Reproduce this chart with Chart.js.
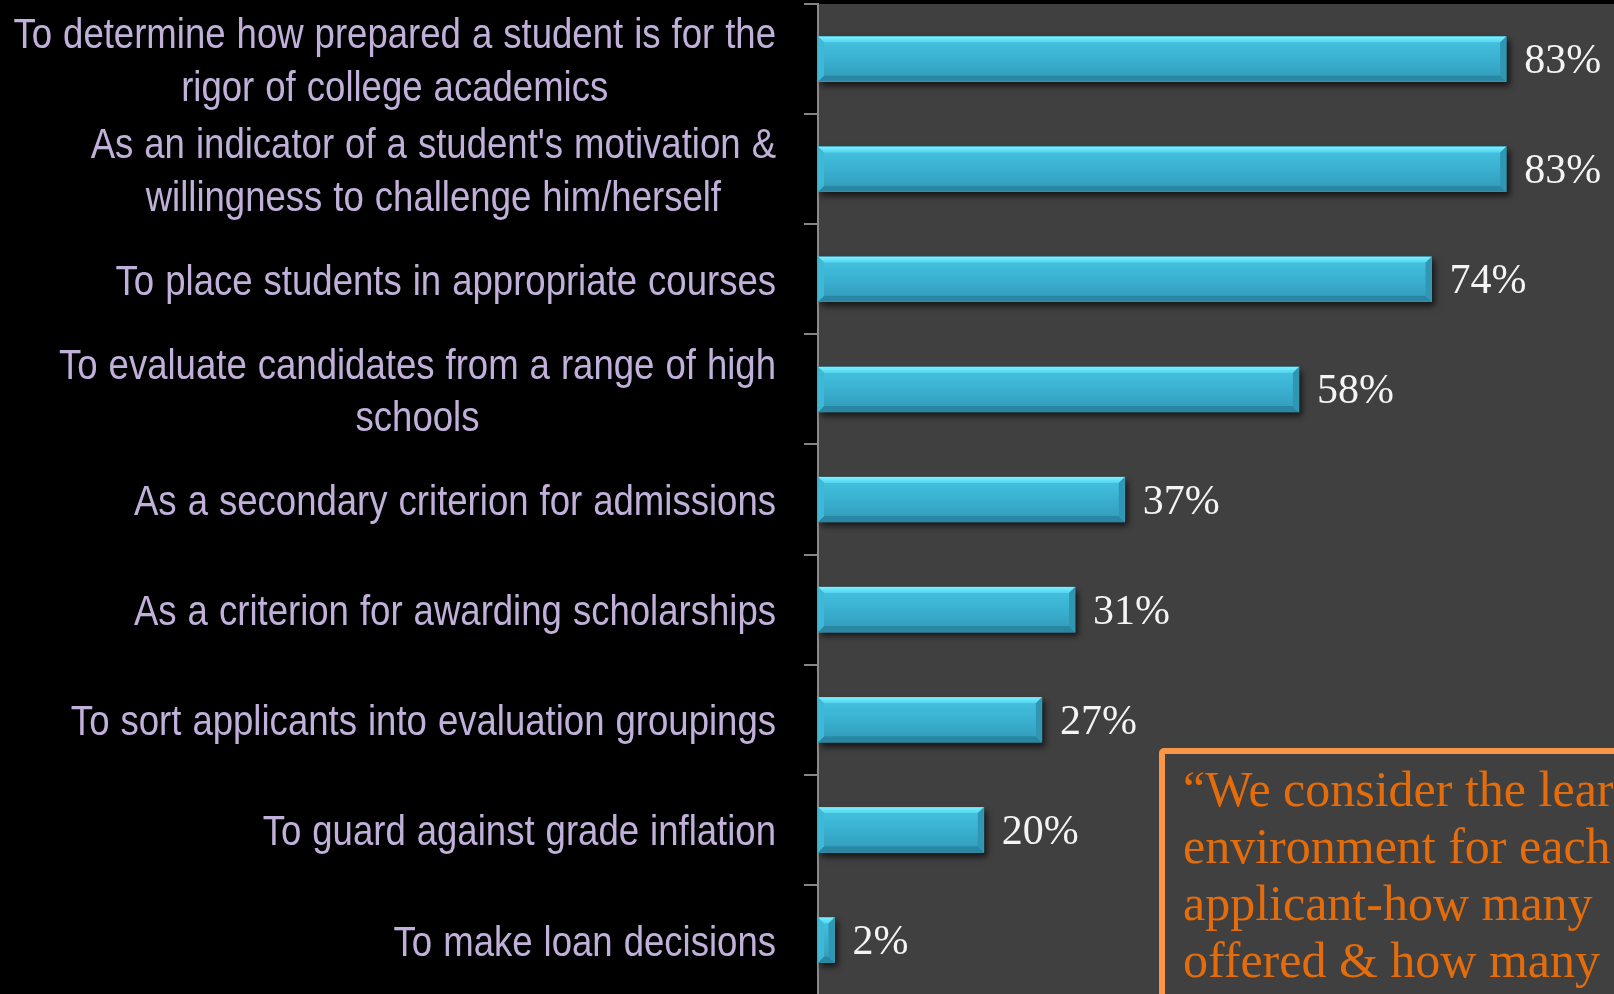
<!DOCTYPE html>
<html>
<head>
<meta charset="utf-8">
<script src="https://cdn.jsdelivr.net/npm/chart.js@4.4.1/dist/chart.umd.min.js"></script>
<style>
  html, body { margin: 0; padding: 0; background: #000; overflow: hidden; width: 1614px; height: 994px; }
  #wrap { position: absolute; left: 0; top: 0; width: 1614px; height: 995px; }
  #quote {
    position: absolute; left: 1159px; top: 748px; width: 600px; height: 400px;
    border: 6px solid #f79646; border-radius: 5px; box-sizing: border-box;
    padding: 7px 0 0 18px;
    font-family: 'Liberation Serif', 'DejaVu Serif', serif; font-size: 50px; line-height: 57px;
    color: #e46c0a; white-space: nowrap;
  }
</style>
</head>
<body>
<div id="wrap"><canvas id="c"></canvas></div>
<div id="quote">“We consider the learning<br>environment for each<br>applicant-how many<br>offered &amp; how many</div>
<script>
const categories = [
  ["To determine how prepared a student is for the", "rigor of college academics"],
  ["As an indicator of a student's motivation &", "willingness to challenge him/herself"],
  "To place students in appropriate courses",
  ["To evaluate candidates from a range of high", "schools"],
  "As a secondary criterion for admissions",
  "As a criterion for awarding scholarships",
  "To sort applicants into evaluation groupings",
  "To guard against grade inflation",
  "To make loan decisions"
];
const values = [83, 83, 74, 58, 37, 31, 27, 20, 2];
const valueSuffix = "%";

const LABEL_FONT = "42px 'Liberation Sans', Arial, sans-serif";
const LABEL_SX = 0.87;      // horizontal condensing (narrow face)
const LABEL_WORD_EXTRA = 1; // extra word spacing
const VALUE_FONT = "42px 'Liberation Serif', 'DejaVu Serif', serif";

const plotBg = {
  id: 'plotBg',
  beforeDraw(chart) {
    const {ctx, chartArea: a} = chart;
    ctx.save();
    ctx.fillStyle = '#404040';
    ctx.fillRect(a.left, a.top, a.right - a.left, a.bottom - a.top + 10);
    ctx.restore();
  }
};

const barStyle = {
  id: 'barStyle',
  beforeDatasetDraw(chart) {
    const ctx = chart.ctx;
    ctx.save();
    ctx.shadowColor = 'rgba(0,0,0,0.65)';
    ctx.shadowBlur = 6;
    ctx.shadowOffsetX = 3;
    ctx.shadowOffsetY = 4;
  },
  afterDatasetDraw(chart, args) {
    const ctx = chart.ctx;
    ctx.restore();
    const meta = args.meta;
    ctx.save();
    meta.data.forEach((el) => {
      const x0 = el.base, x1 = el.x;
      const y0 = el.y - el.height / 2, y1 = el.y + el.height / 2;
      const b = 6;
      const g = ctx.createLinearGradient(0, y0, 0, y1);
      g.addColorStop(0, '#45c4e2');
      g.addColorStop(0.5, '#3ab0d0');
      g.addColorStop(1, '#3299b8');
      ctx.fillStyle = g;
      ctx.fillRect(x0 + b, y0 + b, x1 - x0 - 2 * b, y1 - y0 - 2 * b);
      const poly = (pts, fill) => {
        ctx.beginPath();
        ctx.moveTo(pts[0][0], pts[0][1]);
        for (let i = 1; i < pts.length; i++) ctx.lineTo(pts[i][0], pts[i][1]);
        ctx.closePath();
        ctx.fillStyle = fill;
        ctx.fill();
      };
      const gt = ctx.createLinearGradient(0, y0, 0, y0 + b);
      gt.addColorStop(0, '#7af2ff');
      gt.addColorStop(1, '#52d2ee');
      poly([[x0, y0], [x1, y0], [x1 - b, y0 + b], [x0 + b, y0 + b]], gt);
      poly([[x0, y1], [x1, y1], [x1 - b, y1 - b], [x0 + b, y1 - b]], '#2a87a3');
      poly([[x1, y0], [x1, y1], [x1 - b, y1 - b], [x1 - b, y0 + b]], '#2f97b4');
      poly([[x0, y0], [x0, y1], [x0 + b, y1 - b], [x0 + b, y0 + b]], '#3fb8d6');
    });
    ctx.restore();
  }
};

const valueLabels = {
  id: 'valueLabels',
  afterDatasetsDraw(chart) {
    const ctx = chart.ctx;
    const meta = chart.getDatasetMeta(0);
    ctx.save();
    ctx.font = VALUE_FONT;
    ctx.fillStyle = '#f4f4f4';
    ctx.textAlign = 'left';
    ctx.textBaseline = 'middle';
    meta.data.forEach((el, i) => {
      ctx.fillText(chart.data.datasets[0].data[i] + valueSuffix, el.x + 18, el.y + 3);
    });
    ctx.restore();
  }
};

const catLabels = {
  id: 'catLabels',
  afterDraw(chart) {
    const ctx = chart.ctx;
    const ys = chart.scales.y;
    const rightX = ys.right - 42;
    const lh = 52.5;
    ctx.save();
    ctx.font = LABEL_FONT;
    ctx.fillStyle = '#c0b0da';
    ctx.textAlign = 'left';
    ctx.textBaseline = 'middle';
    const spaceW = ctx.measureText(' ').width + LABEL_WORD_EXTRA;
    const lineWidth = (line) => {
      const words = line.split(' ');
      return words.reduce((s, w) => s + ctx.measureText(w).width, 0) + (words.length - 1) * spaceW;
    };
    chart.data.labels.forEach((lbl, i) => {
      const lines = Array.isArray(lbl) ? lbl : [lbl];
      const w = Math.max(...lines.map(l => lineWidth(l))) * LABEL_SX;
      const cx = rightX - w / 2;
      const y = ys.getPixelForTick(i);
      lines.forEach((l, j) => {
        const lw = lineWidth(l) * LABEL_SX;
        const ly = y + (j - (lines.length - 1) / 2) * lh + 4;
        ctx.save();
        ctx.translate(cx - lw / 2, ly);
        ctx.scale(LABEL_SX, 1);
        let x = 0;
        l.split(' ').forEach((word) => {
          ctx.fillText(word, x, 0);
          x += ctx.measureText(word).width + spaceW;
        });
        ctx.restore();
      });
    });
    ctx.restore();
  }
};

new Chart(document.getElementById('c'), {
  type: 'bar',
  data: {
    labels: categories,
    datasets: [{
      data: values,
      backgroundColor: '#38afcf',
      borderWidth: 0,
      barThickness: 45
    }]
  },
  options: {
    indexAxis: 'y',
    responsive: true,
    maintainAspectRatio: false,
    animation: false,
    layout: { padding: { top: 4, left: 0, right: 0, bottom: 0 } },
    plugins: { legend: { display: false }, tooltip: { enabled: false } },
    scales: {
      x: { display: false, min: 0, max: 96 },
      y: {
        offset: true,
        afterFit(scale) { scale.width = 818; },
        ticks: { display: false },
        grid: { display: true, drawOnChartArea: false, drawTicks: true, tickLength: 14, color: '#858585', lineWidth: 2, offset: true },
        border: { display: true, color: '#8a8a8a', width: 2 }
      }
    }
  },
  plugins: [plotBg, barStyle, valueLabels, catLabels]
});
</script>
</body>
</html>
